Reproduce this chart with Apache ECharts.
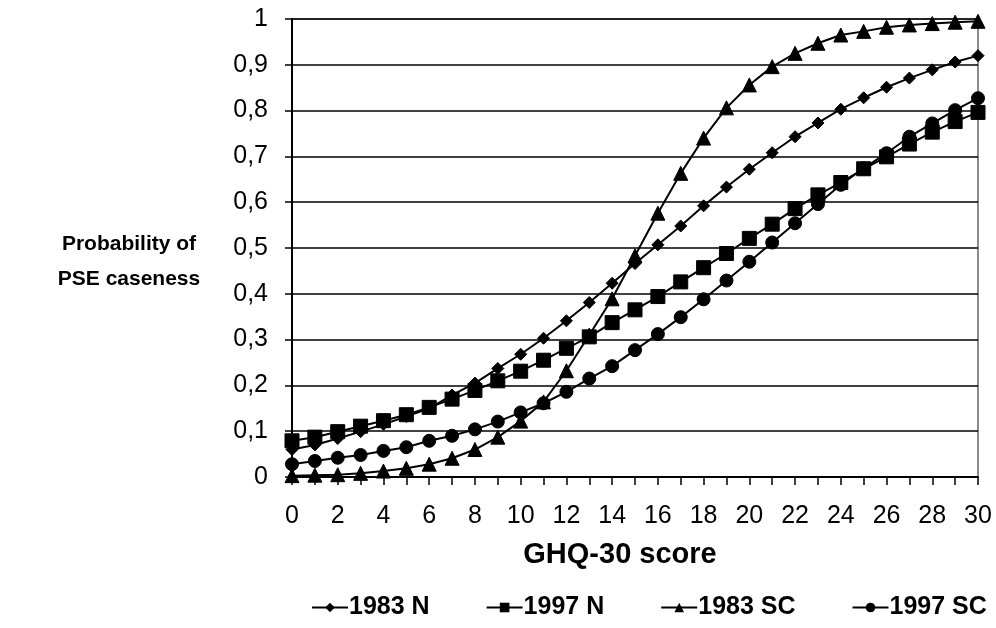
<!DOCTYPE html>
<html>
<head>
<meta charset="utf-8">
<script src="https://cdn.jsdelivr.net/npm/echarts@6/dist/echarts.min.js"></script>
<style>
html,body{margin:0;padding:0;background:#fff;}
#chart{width:996px;height:628px;}
</style>
</head>
<body>
<div id="chart"></div>
<script>
var scores = ['0','1','2','3','4','5','6','7','8','9','10','11','12','13','14','15','16','17','18','19','20','21','22','23','24','25','26','27','28','29','30'];

var n1983 = [0.060,0.070,0.084,0.099,0.115,0.132,0.150,0.179,0.205,0.237,0.268,0.303,0.341,0.381,0.423,0.466,0.507,0.548,0.592,0.633,0.672,0.708,0.743,0.773,0.803,0.828,0.851,0.871,0.889,0.906,0.920];
var n1997 = [0.079,0.087,0.099,0.111,0.123,0.136,0.152,0.170,0.189,0.210,0.231,0.255,0.281,0.306,0.337,0.365,0.394,0.426,0.457,0.488,0.521,0.552,0.586,0.616,0.643,0.673,0.699,0.727,0.753,0.776,0.796];
var sc1983 = [0.003,0.004,0.005,0.008,0.013,0.019,0.028,0.041,0.060,0.087,0.122,0.164,0.232,0.310,0.389,0.483,0.576,0.663,0.740,0.806,0.856,0.896,0.925,0.947,0.965,0.973,0.982,0.987,0.990,0.993,0.995];
var sc1997 = [0.028,0.035,0.042,0.048,0.057,0.065,0.079,0.090,0.104,0.121,0.141,0.161,0.186,0.215,0.242,0.277,0.312,0.349,0.388,0.429,0.470,0.512,0.554,0.596,0.638,0.674,0.707,0.743,0.772,0.801,0.827];

var seriesNames = ['1983 N','1997 N','1983 SC','1997 SC'];
var yTicks = ['0','0,1','0,2','0,3','0,4','0,5','0,6','0,7','0,8','0,9','1'];
var yTitle = 'Probability of\nPSE caseness';
var xTitle = 'GHQ-30 score';

var FONT = '"Liberation Sans", Arial, sans-serif';

function mk(name, data, symbol, size) {
  return {
    name: name, type: 'line', data: data,
    symbol: symbol, symbolSize: size, showSymbol: true,
    lineStyle: {color: '#000', width: 2},
    itemStyle: {color: '#000', borderColor: '#000'},
    emphasis: {disabled: true},
    animation: false
  };
}

var chart = echarts.init(document.getElementById('chart'), null, {renderer: 'canvas'});
chart.setOption({
  backgroundColor: '#fff',
  animation: false,
  grid: {left: 292, right: 18, top: 19, bottom: 151, show: true, borderColor: '#8c8c8c', borderWidth: 2, backgroundColor: 'transparent'},
  graphic: [{
    type: 'text',
    x: 129, y: 262,
    style: {
      text: yTitle,
      font: 'bold 21px ' + FONT,
      fill: '#000',
      align: 'center',
      verticalAlign: 'middle',
      lineHeight: 35
    }
  }],
  legend: {
    data: seriesNames,
    left: 306, top: 590,
    itemWidth: 36, itemHeight: 12, itemGap: 56,
    textStyle: {fontFamily: FONT, fontSize: 25, fontWeight: 'bold', color: '#000', padding: [0,0,0,-4]}
  },
  xAxis: {
    type: 'category',
    data: scores,
    boundaryGap: false,
    name: xTitle,
    nameLocation: 'middle',
    nameGap: 63,
    nameTextStyle: {fontFamily: FONT, fontSize: 29, fontWeight: 'bold', color: '#000', padding: [0, 30, 0, 0]},
    axisLine: {lineStyle: {color: '#000', width: 2}},
    axisTick: {show: true, interval: 0, length: 8, lineStyle: {color: '#000', width: 1.5}},
    axisLabel: {interval: 1, margin: 27, fontFamily: FONT, fontSize: 25, color: '#000'},
    splitLine: {show: false}
  },
  yAxis: {
    type: 'value',
    min: 0, max: 1, interval: 0.1,
    axisLine: {show: true, lineStyle: {color: '#000', width: 2}},
    axisTick: {show: true, length: 7, lineStyle: {color: '#000', width: 1.5}},
    axisLabel: {
      margin: 24, fontFamily: FONT, fontSize: 25, color: '#000',
      formatter: function (v) { return yTicks[Math.round(v * 10)]; }
    },
    splitLine: {show: true, lineStyle: {color: '#000', width: 1.5}}
  },
  series: [
    mk(seriesNames[0], n1983, 'diamond', 12),
    mk(seriesNames[1], n1997, 'rect', 14),
    mk(seriesNames[2], sc1983, 'triangle', 14),
    mk(seriesNames[3], sc1997, 'circle', 13)
  ]
});
</script>
</body>
</html>
